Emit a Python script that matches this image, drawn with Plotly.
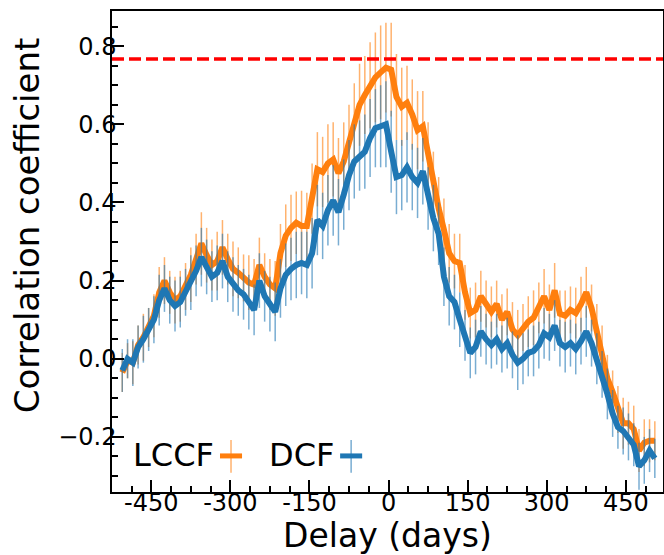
import plotly.graph_objects as go

# Delay grid (days)
delay = list(range(-505, 506, 10))

# LCCF values
lccf = [
    -0.035, -0.005, -0.01, 0.035, 0.055, 0.08, 0.11, 0.17, 0.20, 0.17, 0.15,
    0.16, 0.185, 0.215, 0.255, 0.295, 0.265, 0.24, 0.25, 0.285, 0.255,
    0.23, 0.22, 0.207, 0.195, 0.19, 0.24, 0.21, 0.19, 0.18, 0.27,
    0.315, 0.335, 0.348, 0.34, 0.34, 0.41, 0.485, 0.478, 0.50, 0.51,
    0.475, 0.505, 0.555, 0.605, 0.65, 0.675, 0.70, 0.72, 0.733, 0.745,
    0.74, 0.67, 0.645, 0.655, 0.625, 0.585, 0.595, 0.52, 0.44, 0.385,
    0.33, 0.27, 0.25, 0.245, 0.17, 0.117, 0.125, 0.16, 0.14, 0.12,
    0.14, 0.10, 0.12, 0.075, 0.06, 0.08, 0.095, 0.105, 0.13, 0.16,
    0.125, 0.175, 0.115, 0.11, 0.125, 0.117, 0.14, 0.17, 0.13, 0.07,
    0.02, -0.05, -0.085, -0.13, -0.165, -0.165, -0.18, -0.235, -0.215, -0.21, -0.21,
]
lccf_err = [
    0.05, 0.045, 0.055, 0.05, 0.06, 0.05, 0.055, 0.065, 0.06, 0.055, 0.06,
    0.065, 0.06, 0.07, 0.065, 0.08, 0.07, 0.065, 0.075, 0.07, 0.065,
    0.07, 0.065, 0.06, 0.07, 0.065, 0.07, 0.06, 0.065, 0.07, 0.075,
    0.08, 0.085, 0.08, 0.09, 0.085, 0.09, 0.095, 0.09, 0.10, 0.095,
    0.09, 0.10, 0.095, 0.10, 0.105, 0.10, 0.11, 0.115, 0.12, 0.115,
    0.12, 0.11, 0.10, 0.095, 0.09, 0.10, 0.09, 0.085, 0.09, 0.08,
    0.08, 0.075, 0.07, 0.075, 0.07, 0.065, 0.07, 0.065, 0.06, 0.065,
    0.06, 0.065, 0.06, 0.07, 0.065, 0.06, 0.065, 0.07, 0.065, 0.07,
    0.065, 0.07, 0.06, 0.065, 0.06, 0.065, 0.07, 0.065, 0.06, 0.07,
    0.065, 0.06, 0.055, 0.06, 0.065, 0.055, 0.06, 0.055, 0.06, 0.055, 0.05,
]

# DCF values
dcf = [
    -0.03, 0.0, -0.01, 0.03, 0.05, 0.075, 0.10, 0.15, 0.18, 0.15, 0.135,
    0.145, 0.17, 0.195, 0.225, 0.26, 0.235, 0.21, 0.22, 0.25, 0.21,
    0.19, 0.175, 0.165, 0.145, 0.125, 0.20, 0.16, 0.14, 0.12, 0.18,
    0.215, 0.23, 0.24, 0.245, 0.24, 0.27, 0.355, 0.34, 0.38, 0.405,
    0.375, 0.42, 0.47, 0.505, 0.52, 0.53, 0.565, 0.59, 0.595, 0.60,
    0.53, 0.465, 0.47, 0.49, 0.465, 0.45, 0.48, 0.41, 0.36, 0.32,
    0.21, 0.16, 0.145, 0.10, 0.06, 0.015, 0.03, 0.07, 0.05, 0.035,
    0.05, 0.025, 0.04, 0.01, -0.01, 0.0, 0.015, 0.02, 0.035, 0.065,
    0.055, 0.085, 0.04, 0.03, 0.04, 0.025, 0.045, 0.07, 0.04, 0.0,
    -0.04, -0.09, -0.14, -0.175, -0.185, -0.20, -0.22, -0.275, -0.26, -0.235, -0.255,
]
dcf_err = [
    0.055, 0.05, 0.06, 0.055, 0.06, 0.055, 0.06, 0.065, 0.06, 0.06, 0.065,
    0.065, 0.06, 0.07, 0.065, 0.075, 0.07, 0.065, 0.07, 0.07, 0.065,
    0.07, 0.065, 0.065, 0.07, 0.065, 0.07, 0.065, 0.07, 0.075, 0.075,
    0.08, 0.08, 0.085, 0.08, 0.085, 0.09, 0.09, 0.085, 0.09, 0.09,
    0.085, 0.09, 0.09, 0.095, 0.09, 0.095, 0.10, 0.10, 0.105, 0.11,
    0.105, 0.095, 0.09, 0.09, 0.085, 0.09, 0.085, 0.08, 0.085, 0.08,
    0.075, 0.075, 0.07, 0.07, 0.065, 0.065, 0.07, 0.065, 0.065, 0.06,
    0.065, 0.06, 0.065, 0.06, 0.07, 0.065, 0.06, 0.065, 0.06, 0.065,
    0.06, 0.065, 0.06, 0.065, 0.06, 0.065, 0.06, 0.065, 0.06, 0.065,
    0.06, 0.065, 0.06, 0.055, 0.06, 0.06, 0.055, 0.06, 0.06, 0.055, 0.05,
]

threshold = 0.767

x_tickvals = [-450, -300, -150, 0, 150, 300, 450]
x_ticktext = ["-450", "-300", "-150", "0", "150", "300", "450"]
y_tickvals = [-0.2, 0.0, 0.2, 0.4, 0.6, 0.8]
y_ticktext = ["\u22120.2", "0.0", "0.2", "0.4", "0.6", "0.8"]

ORANGE = "#ff7f0e"
BLUE = "#1f77b4"
FONT = "DejaVu Sans"

fig = go.Figure()
fig.add_trace(go.Scatter(
    x=delay, y=lccf, mode="lines", name="LCCF",
    line=dict(color=ORANGE, width=6),
    error_y=dict(type="data", array=lccf_err, color="rgba(255,127,14,0.6)",
                 thickness=1.5, width=0),
    showlegend=False,
))
fig.add_trace(go.Scatter(
    x=delay, y=dcf, mode="lines", name="DCF",
    line=dict(color=BLUE, width=6),
    error_y=dict(type="data", array=dcf_err, color="rgba(31,119,180,0.6)",
                 thickness=1.5, width=0),
    showlegend=False,
))

fig.add_hline(y=threshold, line=dict(color="red", width=3.5, dash="12px,5px"))

# manual legend (text first, then errorbar symbol)
legend_items = [("LCCF", ORANGE, "rgba(255,127,14,0.6)", 0.034, 0.196),
                ("DCF", BLUE, "rgba(31,119,180,0.6)", 0.281, 0.414)]
for label, col, ecol, tx, mx in legend_items:
    fig.add_annotation(xref="paper", yref="paper", x=tx, y=0.077, text=label,
                       showarrow=False, xanchor="left", yanchor="middle",
                       font=dict(family=FONT, size=32, color="black"))
    fig.add_shape(type="line", xref="paper", yref="paper",
                  x0=mx + 0.02, x1=mx + 0.02, y0=0.04, y1=0.108,
                  line=dict(color=ecol, width=1.5))
    fig.add_shape(type="line", xref="paper", yref="paper",
                  x0=mx, x1=mx + 0.04, y0=0.075, y1=0.075,
                  line=dict(color=col, width=5))

# y-axis title
fig.add_annotation(xref="paper", yref="paper", x=-0.154, y=0.555,
                   text="Correlation coefficient", textangle=-90,
                   showarrow=False, xanchor="center", yanchor="middle",
                   font=dict(family=FONT, size=34, color="black"))

axis_common = dict(
    showgrid=False, zeroline=False, showline=True, linecolor="black",
    linewidth=1.5, mirror=True, ticks="inside", ticklen=12, tickwidth=1.5,
    tickcolor="black", tickfont=dict(family=FONT, size=24, color="black"),
)

fig.update_xaxes(
    **axis_common, range=[-524.5, 520.5], tickmode="array",
    tickvals=x_tickvals, ticktext=x_ticktext, ticklabelstandoff=-12,
    minor=dict(ticks="inside", ticklen=6, tickwidth=1.5, tickcolor="black",
               dtick=37.5, tick0=0),
    title=dict(text="Delay (days)", font=dict(family=FONT, size=33, color="black"),
               standoff=13),
)
fig.update_yaxes(
    **axis_common, range=[-0.341, 0.89], tickmode="array",
    tickvals=y_tickvals, ticktext=y_ticktext, ticklabelstandoff=-11,
    minor=dict(ticks="inside", ticklen=6, tickwidth=1.5, tickcolor="black",
               dtick=0.05, tick0=0),
)

fig.update_layout(
    width=664, height=555,
    margin=dict(l=112, r=1, t=11, b=63, autoexpand=False),
    plot_bgcolor="white", paper_bgcolor="white",
    font=dict(family=FONT),
)

fig.write_html("out.html")
